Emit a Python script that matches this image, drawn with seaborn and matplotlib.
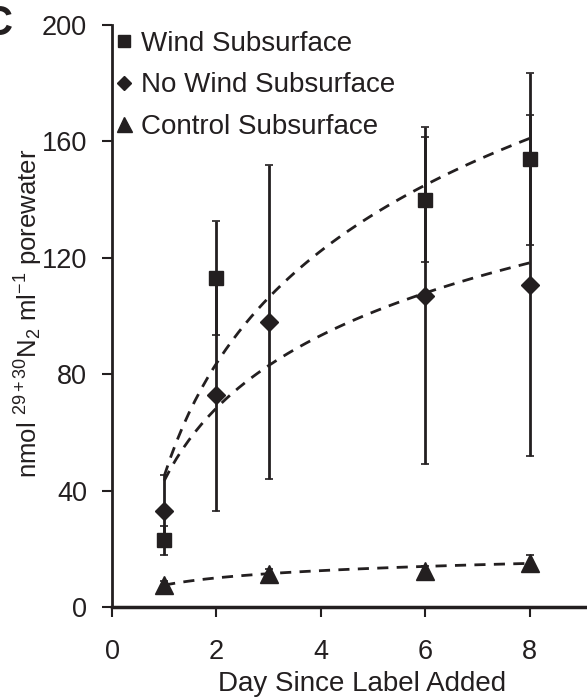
import numpy as np
import pandas as pd
import matplotlib
matplotlib.use("Agg")
import matplotlib.pyplot as plt
from matplotlib.lines import Line2D
import seaborn as sns

#%% values
series = ["Wind Subsurface", "No Wind Subsurface", "Control Subsurface"]
markers = ["s", "D", "^"]
msizes = [10, 9.5, 13.5]

days_wind = [1, 2, 6, 8]
wind = [23, 113, 140, 154]
wind_err = [5, 19.5, 21.5, 29.5]

days_nowind = [1, 2, 3, 6, 8]
nowind = [33, 73, 98, 107, 110.5]
nowind_err = [12.5, 40, 54, 58, 58.5]

days_ctrl = [1, 3, 6, 8]
ctrl = [7.5, 11.5, 12.5, 15]
ctrl_err = [1.5, 1.5, 1.5, 3]

# log trendlines y = a + b*ln(day), coefficients
fit_a = [45, 43.4, 7.5]
fit_b = [55.8, 36.0, 3.6]

xticks = [0, 2, 4, 6, 8]
yticks = [0, 40, 80, 120, 160, 200]

ink = "#231f20"

sns.set_theme(style="ticks")
plt.rcParams['font.family'] = ['Liberation Sans', 'DejaVu Sans']
plt.rcParams['mathtext.fontset'] = 'custom'
plt.rcParams['mathtext.rm'] = 'Liberation Sans'
plt.rcParams['mathtext.it'] = 'Liberation Sans:italic'
plt.rcParams['text.color'] = ink
plt.rcParams['axes.labelcolor'] = ink
plt.rcParams['xtick.color'] = ink
plt.rcParams['ytick.color'] = ink

fig = plt.figure(figsize=(5.87, 6.99), dpi=100)
ax = fig.add_axes([112/587, 92/699, 475/587, 582/699])

# dashed fits
rows = []
for i, name in enumerate(series):
    for d in np.linspace(1, 8, 60):
        rows.append({"day": d, "val": fit_a[i] + fit_b[i]*np.log(d), "s": name})
fits = pd.DataFrame(rows)
sns.lineplot(data=fits, x="day", y="val", units="s", estimator=None,
             color=ink, linestyle="--", dashes=False, linewidth=2, ax=ax, legend=False)
for l in ax.get_lines():
    l.set_dashes((4, 3))

data = [(days_wind, wind, wind_err), (days_nowind, nowind, nowind_err), (days_ctrl, ctrl, ctrl_err)]
for i, (d, v, e) in enumerate(data):
    ax.errorbar(d, v, yerr=e, fmt=markers[i], color=ink, markersize=msizes[i],
                ecolor=ink, elinewidth=2, capsize=3, capthick=1.2, zorder=3)

ax.set_xlim(0, 9.1)
ax.set_ylim(0, 200)
ax.set_xticks(xticks)
ax.set_yticks(yticks)
ax.tick_params(labelsize=19.5, width=1.5, length=7, direction="out")
ax.tick_params(axis="y", pad=11)
ax.tick_params(axis="x", pad=16)
for s in ["top", "right"]:
    ax.spines[s].set_visible(False)
for s in ["left", "bottom"]:
    ax.spines[s].set_linewidth(2)
    ax.spines[s].set_color(ink)
ax.spines["bottom"].set_linewidth(2.5)

ax.set_xlabel("Day Since Label Added", fontsize=20)
ax.xaxis.set_label_coords(0.526, -0.11)
ax.set_ylabel(r"nmol $^{29+30}$N$_2$ ml$^{-1}$ porewater", fontsize=18.5)
ax.yaxis.set_label_coords(-0.142, 0.505)

handles = [Line2D([], [], linestyle="none", marker=markers[i], color=ink,
                  markersize=msizes[i]*0.8) for i in range(3)]
ax.legend(handles, series, loc="upper left", bbox_to_anchor=(0.005, 0.99),
          frameon=False, fontsize=20, handlelength=0.7, handletextpad=0.25,
          labelspacing=0.56, borderpad=0, borderaxespad=0)

fig.text(-0.031, 0.966, "C", fontsize=30, fontweight="bold", color=ink, va="center")

fig.savefig("out.png", dpi=100)
